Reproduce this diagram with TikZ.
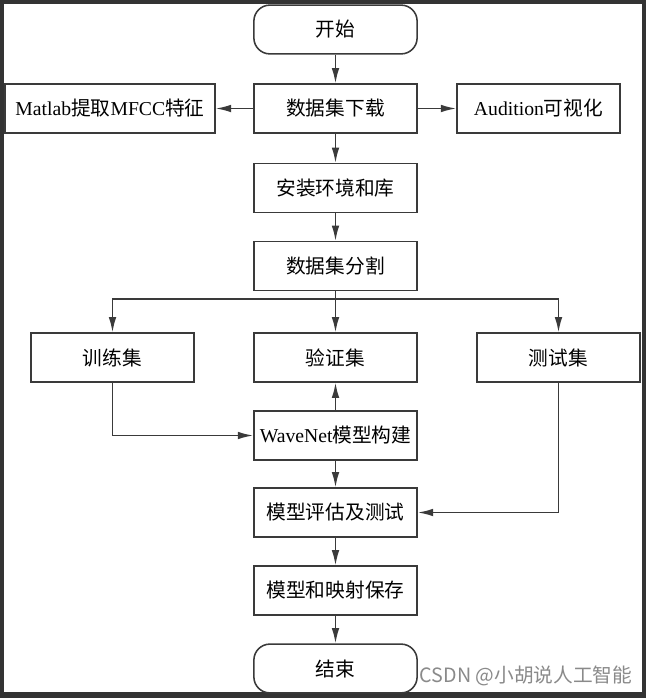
\documentclass[tikz,border=0pt]{standalone}
\usepackage{fontspec}
\setmainfont{Liberation Serif}
\newfontfamily\cjk{Noto Sans CJK SC}
\usetikzlibrary{arrows.meta}

\definecolor{trait}{HTML}{3A3A3A}
\definecolor{cadre}{HTML}{333333}
\definecolor{filigrane}{HTML}{8A8A8A}

\tikzset{
  boite/.style={draw=trait, line width=1.1pt, fill=white, inner sep=0pt,
    minimum width=4.08cm, minimum height=1.22cm,
    font=\fontsize{14}{16}\selectfont},
  terminal/.style={boite, rounded corners=0.4cm},
  fleche/.style={draw=trait, line width=1.1pt,
    -{Latex[length=0.38cm,width=0.19cm]}},
  ligne/.style={draw=trait, line width=1.1pt},
}

\begin{document}
\begin{tikzpicture}[x=0.025cm,y=-0.025cm]
  \fill[cadre] (0,0) rectangle (646,698); % cadre sombre
  \fill[white] (4,4) rectangle (642,692);
  \useasboundingbox (0,0) rectangle (646,698);

  % colonne centrale
  \node[terminal] (debut) at (335.5,29.5) {\cjk 开始};
  \node[boite] (telechargement) at (335.5,108.5) {\cjk 数据集下载};
  \node[boite] (environnement) at (335.5,188) {\cjk 安装环境和库};
  \node[boite] (partage) at (335.5,266) {\cjk 数据集分割};
  \node[boite] (validation) at (335.5,357.5) {\cjk 验证集};
  \node[boite] (wavenet) at (335.5,435.5) {WaveNet{\cjk 模型构建}};
  \node[boite] (evaluation) at (335.5,512.5) {\cjk 模型评估及测试};
  \node[boite] (sauvegarde) at (335.5,590.5) {\cjk 模型和映射保存};
  \node[terminal] (fin) at (335.5,668.5) {\cjk 结束};

  % colonnes latérales
  \node[boite, minimum width=5.25cm] (matlab) at (110,108.5)
    {Matlab{\cjk 提取}MFCC{\cjk 特征}};
  \node[boite] (audition) at (538.5,108.5) {Audition{\cjk 可视化}};
  \node[boite] (entrainement) at (112.5,357.5) {\cjk 训练集};
  \node[boite] (test) at (558.5,357.5) {\cjk 测试集};

  % flèches
  \draw[fleche] (debut) -- (telechargement);
  \draw[fleche] (telechargement) -- (matlab);
  \draw[fleche] (telechargement) -- (audition);
  \draw[fleche] (telechargement) -- (environnement);
  \draw[fleche] (environnement) -- (partage);
  \coordinate (bifurcation) at (335.5,299);
  \draw[ligne] (partage) -- (bifurcation);
  \draw[fleche] (bifurcation) -| (entrainement.north);
  \draw[fleche] (bifurcation) -- (validation);
  \draw[fleche] (bifurcation) -| (test.north);
  \draw[fleche] (entrainement.south) |- (wavenet.west);
  \draw[fleche] (wavenet) -- (validation);
  \draw[fleche] (wavenet) -- (evaluation);
  \draw[fleche] (test.south) |- (evaluation.east);
  \draw[fleche] (evaluation) -- (sauvegarde);
  \draw[fleche] (sauvegarde) -- (fin);

  % filigrane
  \node[text=filigrane, font=\cjk\fontsize{14}{16}\selectfont, inner sep=0pt]
    (csdn) at (526,676) {CSDN @小胡说人工智能};
\end{tikzpicture}
\end{document}
